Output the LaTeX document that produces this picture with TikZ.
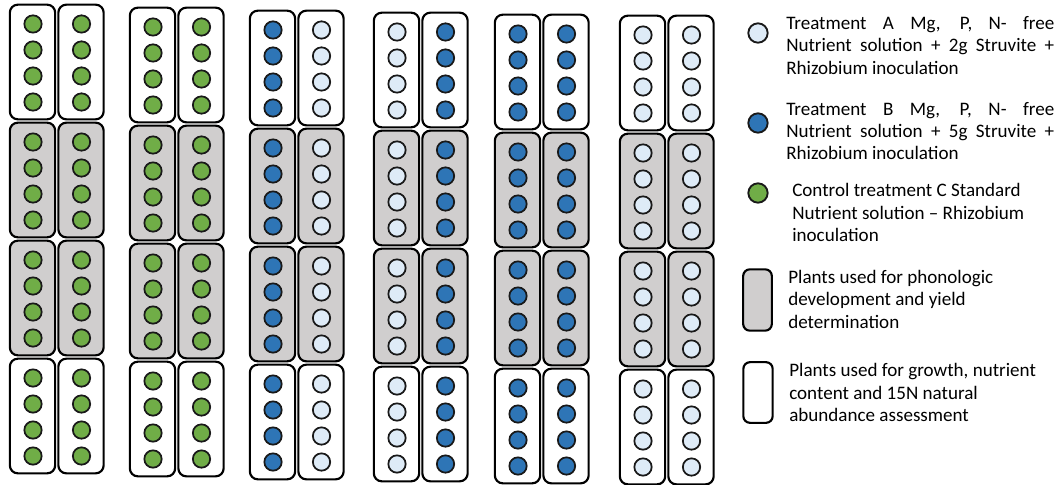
\documentclass[tikz,border=0pt]{standalone}
\usepackage{fontspec}
\setmainfont{Carlito}
\definecolor{cgreen}{HTML}{70AD47}
\definecolor{cblue}{HTML}{2E75B6}
\definecolor{clight}{HTML}{DEEBF7}
\definecolor{boxgray}{HTML}{D0CECE}
\tikzset{
  plot/.style={draw=black, line width=1.6pt, rounded corners=6pt, minimum width=34pt, minimum height=86pt, inner sep=0pt},
  dot/.style={circle, draw=black!90, line width=1.3pt, minimum size=13pt, inner sep=0pt},
  bigdot/.style={circle, draw=black!90, line width=1.4pt, minimum size=14.5pt, inner sep=0pt},
  legtext/.style={anchor=base west, inner sep=0pt, font=\fontsize{14.3}{16.8}\selectfont}
}
\begin{document}
\begin{tikzpicture}[x=0.75pt,y=-0.75pt]
\useasboundingbox (0,0) rectangle (1063,485);
\foreach \g/\xo/\yo/\ca/\cb in {1/9/4/cgreen/cgreen, 2/129/7/cgreen/cgreen, 3/249/10/cblue/clight, 4/373/12/clight/cblue, 5/494/14/cblue/cblue, 6/619/15/clight/clight} {
  \foreach \r/\f in {0/white,1/boxgray,2/boxgray,3/white} {
    \foreach \c/\col in {0/\ca,1/\cb} {
      \node[plot, fill=\f] (b\g\r\c) at ({\xo+\c*48.5+23.5},{\yo+\r*118+58}) {};
      \foreach \k in {0,...,3} {
        \node[dot, fill=\col] (d\g\r\c\k) at ({\xo+\c*48.5+24},{\yo+\r*118+20+\k*26}) {};
      }
    }
  }
}
% legend
\node[bigdot, fill=clight] (la) at (758,33) {};
\node[bigdot, fill=cblue] (lb) at (758,123) {};
\node[bigdot, fill=cgreen] (lc) at (758,193) {};
\node[draw=black, line width=1.6pt, rounded corners=5pt, fill=boxgray, minimum width=21.5pt, minimum height=46pt, inner sep=0pt] (lg) at (757.5,300) {};
\node[draw=black, line width=1.6pt, rounded corners=5pt, fill=white, minimum width=22pt, minimum height=45.5pt, inner sep=0pt] (lw) at (758,392.5) {};
\node[legtext] (ta) at (786,29.3) {\parbox[t]{210pt}{\makebox[201pt][s]{Treatment A Mg, P, N- free}\\\makebox[201pt][s]{Nutrient solution + 2g Struvite +}\\Rhizobium inoculation}};
\node[legtext] (tb) at (786,115) {\parbox[t]{210pt}{\makebox[201pt][s]{Treatment B Mg, P, N- free}\\\makebox[201pt][s]{Nutrient solution + 5g Struvite +}\\Rhizobium inoculation}};
\node[legtext] (tc) at (792,196.7) {\parbox[t]{210pt}{Control treatment C Standard\\Nutrient solution -- Rhizobium\\inoculation}};
\node[legtext] (tg) at (788,283.3) {\parbox[t]{210pt}{Plants used for phonologic\\development and yield\\determination}};
\node[legtext] (tw) at (789,376.7) {\parbox[t]{210pt}{Plants used for growth, nutrient\\content and 15N natural\\abundance assessment}};
\end{tikzpicture}
\end{document}
